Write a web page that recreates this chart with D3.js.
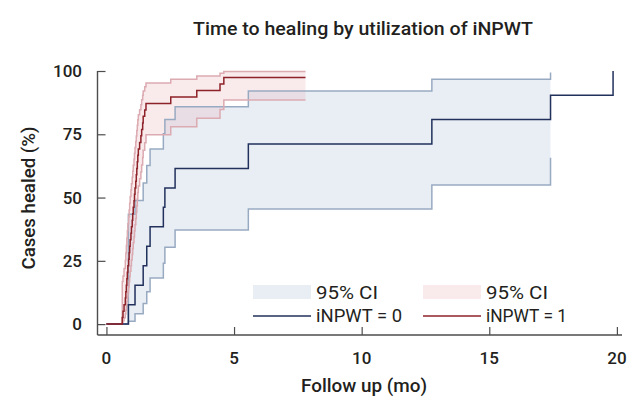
<!DOCTYPE html>
<html>
<head>
<meta charset="utf-8">
<script src="https://cdn.jsdelivr.net/npm/d3@7"></script>
<style>
  body { margin: 0; background: #fff; }
  text { font-family: Roboto, "Noto Sans", sans-serif; fill: #231f20; }
</style>
</head>
<body>
<svg id="chart" width="635" height="402"></svg>
<script>
// iNPWT = 0 : Kaplan-Meier failure (cases healed, %) with 95% CI
const blueTime   = [0, 0.86, 1.12, 1.44, 1.58, 1.71, 2.23, 2.29, 2.69, 5.56, 12.75, 17.4, 19.85];
const blueHealed = [0, 7.7, 15.4, 23.1, 30.8, 38.5, 46.2, 53.8, 61.5, 71.2, 80.8, 90.4, 100];
const blueLower  = [0, 1.1, 4.1, 8.1, 12.8, 18.2, 24.0, 30.4, 37.2, 45.5, 55.0, 65.7];
const blueUpper  = [0, 43.4, 48.8, 55.8, 62.7, 69.2, 75.2, 80.8, 85.9, 92.1, 96.7, 99.4];

// iNPWT = 1
const redTime = [0, 0.62, 0.65, 0.69, 0.74, 0.76, 0.78, 0.80, 0.82, 0.84, 0.87, 0.89, 0.91,
  0.93, 0.96, 0.98, 1.01, 1.03, 1.05, 1.08, 1.10, 1.12, 1.15, 1.17, 1.19, 1.21, 1.23,
  1.25, 1.30, 1.35, 1.38, 1.42, 1.44, 1.50, 1.55, 2.52, 3.54, 4.45, 4.60, 7.8];
const redHealed = [0, 2.6, 5.1, 7.7, 10.3, 12.8, 15.4, 17.9, 20.5, 23.1, 25.6, 28.2, 30.8,
  33.3, 35.9, 38.5, 41.0, 43.6, 46.2, 48.7, 51.3, 53.8, 56.4, 59.0, 61.5, 64.1, 66.7,
  69.2, 71.8, 74.4, 76.9, 79.5, 82.1, 84.6, 87.2, 89.7, 92.3, 94.9, 97.4, 97.4];
const redLower = [0, 0.4, 1.3, 2.5, 4.0, 5.5, 7.2, 9.0, 10.8, 12.7, 14.7, 16.7, 18.8,
  20.9, 23.1, 25.3, 27.5, 29.8, 32.1, 34.4, 36.8, 39.3, 41.7, 44.2, 46.8, 49.4, 52.0,
  54.6, 57.4, 60.1, 62.9, 65.8, 68.7, 71.7, 74.8, 78.0, 81.3, 84.8, 88.5, 88.5];
const redUpper = [0, 16.8, 19.0, 22.0, 25.1, 28.1, 31.1, 34.0, 36.9, 39.7, 42.4, 45.1, 47.8,
  50.4, 53.0, 55.5, 58.0, 60.4, 62.8, 65.2, 67.5, 69.8, 72.1, 74.3, 76.5, 78.6, 80.7,
  82.7, 84.7, 86.7, 88.6, 90.4, 92.1, 93.8, 95.3, 96.7, 98.0, 99.1, 99.8, 99.8];

const xTicks = [0, 5, 10, 15, 20];
const yTicks = [0, 25, 50, 75, 100];
const groups = ["iNPWT = 0", "iNPWT = 1"];

const svg = d3.select("#chart");

const x = d3.scaleLinear().domain([-0.35, 20.2]).range([97.5, 622]);
const y = d3.scaleLinear().domain([-4.3, 100]).range([335, 71]);

const blueCol = "#22315c", blueFill = "#e9eef5", blueEdge = "#98aac1";
const redCol = "#8e2229", redFill = "#e8b4bc", redEdge = "#dcaab1";
const redOpacity = 0.28;

const pts = (t, v) => t.map((d, i) => [d, v[i]]);
const band = (t, lo, hi) => lo.map((d, i) => ({ t: t[i], lo: d, hi: hi[i] }));

const stepLine = d3.line().x(d => x(d[0])).y(d => y(d[1])).curve(d3.curveStepAfter);
const stepArea = d3.area()
  .x(d => x(d.t)).y0(d => y(d.lo)).y1(d => y(d.hi))
  .curve(d3.curveStepAfter);

// CI bands
const blueBand = band(blueTime, blueLower, blueUpper);
const redBand = band(redTime, redLower, redUpper);

svg.append("path").datum(blueBand).attr("d", stepArea)
  .attr("fill", blueFill);
svg.append("path").datum(redBand).attr("d", stepArea)
  .attr("fill", redFill).attr("fill-opacity", redOpacity);

[[blueBand, blueEdge], [redBand, redEdge]].forEach(([b, c]) => {
  svg.append("path").datum(b.map(d => [d.t, d.lo])).attr("d", stepLine)
    .attr("fill", "none").attr("stroke", c).attr("stroke-width", 1.5);
  svg.append("path").datum(b.map(d => [d.t, d.hi])).attr("d", stepLine)
    .attr("fill", "none").attr("stroke", c).attr("stroke-width", 1.5);
});

// main curves
svg.append("path").datum(pts(blueTime, blueHealed)).attr("d", stepLine)
  .attr("fill", "none").attr("stroke", blueCol).attr("stroke-width", 1.5);
svg.append("path").datum(pts(redTime, redHealed)).attr("d", stepLine)
  .attr("fill", "none").attr("stroke", redCol).attr("stroke-width", 1.5);

// axes
const axisCol = "#4d4d4d";
const yAxis = svg.append("g").attr("transform", `translate(${x.range()[0]},0)`)
  .call(d3.axisRight(y).tickValues(yTicks).tickSize(8).tickFormat(""));
const xAxis = svg.append("g").attr("transform", `translate(0,${y.range()[0]})`)
  .call(d3.axisTop(x).tickValues(xTicks).tickSize(8).tickFormat(""));
[yAxis, xAxis].forEach(g => {
  g.select(".domain").attr("stroke", axisCol).attr("stroke-width", 1.4);
  g.selectAll(".tick line").attr("stroke", axisCol).attr("stroke-width", 1.2);
});
yAxis.select(".domain").attr("d", `M0,${y(100)}V${y.range()[0]}`);
xAxis.select(".domain").attr("d", `M${x.range()[0]},0H${x.range()[1]}`);

svg.append("g").selectAll("text").data(yTicks).join("text")
  .attr("x", 82).attr("y", d => y(d) + 6)
  .attr("text-anchor", "end").attr("font-size", 17).attr("font-weight", 500)
  .text(d => d);
svg.append("g").selectAll("text").data(xTicks).join("text")
  .attr("x", d => x(d)).attr("y", 364)
  .attr("text-anchor", "middle").attr("font-size", 17).attr("font-weight", 500)
  .text(d => d);

// titles
svg.append("text").attr("x", 363).attr("y", 35).attr("text-anchor", "middle")
  .attr("font-size", 18).attr("font-weight", 500)
  .attr("textLength", 340).attr("lengthAdjust", "spacingAndGlyphs")
  .text("Time to healing by utilization of iNPWT");
svg.append("text").attr("x", 364).attr("y", 392).attr("text-anchor", "middle")
  .attr("font-size", 18).attr("font-weight", 500)
  .attr("textLength", 126).attr("lengthAdjust", "spacingAndGlyphs")
  .text("Follow up (mo)");
svg.append("text").attr("transform", "translate(35,198) rotate(-90)")
  .attr("text-anchor", "middle")
  .attr("font-size", 18).attr("font-weight", 500)
  .attr("textLength", 143).attr("lengthAdjust", "spacingAndGlyphs")
  .text("Cases healed (%)");

// legend
const legend = svg.append("g");
const legendX = [253, 423];
const fills = [[blueFill, 1], [redFill, redOpacity]];
const cols = [blueCol, redCol];
legendX.forEach((lx, i) => {
  legend.append("rect").attr("x", lx).attr("y", 285).attr("width", 58).attr("height", 14)
    .attr("fill", fills[i][0]).attr("fill-opacity", fills[i][1]);
  legend.append("text").attr("x", lx + 63).attr("y", 299).attr("font-size", 18)
    .attr("textLength", 62).attr("lengthAdjust", "spacingAndGlyphs").text("95% CI");
  legend.append("line").attr("x1", lx).attr("x2", lx + 58).attr("y1", 316).attr("y2", 316)
    .attr("stroke", cols[i]).attr("stroke-width", 1.5);
  legend.append("text").attr("x", lx + 63).attr("y", 322).attr("font-size", 18)
    .attr("textLength", i === 0 ? 86 : 81).attr("lengthAdjust", "spacingAndGlyphs")
    .text(groups[i]);
});
</script>
</body>
</html>
